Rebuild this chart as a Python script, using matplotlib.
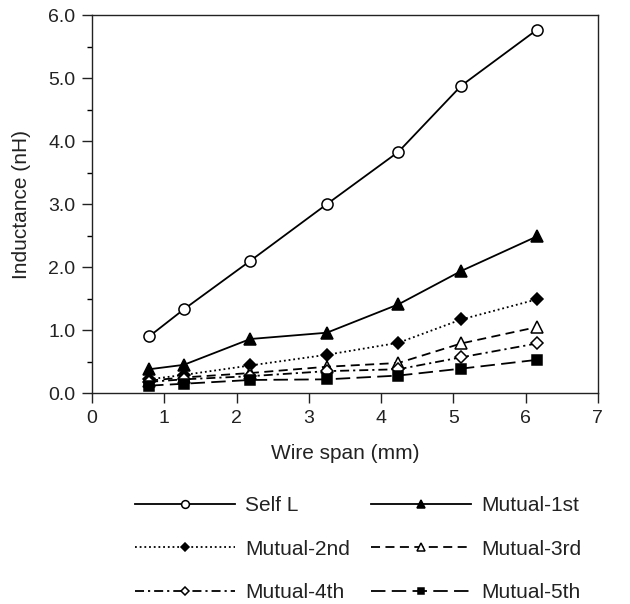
import matplotlib
matplotlib.use("Agg")
import matplotlib.pyplot as plt
from matplotlib.ticker import MultipleLocator, FormatStrFormatter

plt.rcParams['font.family'] = ['Liberation Sans', 'DejaVu Sans']

span = [0.79, 1.27, 2.19, 3.25, 4.24, 5.11, 6.16]
self_l = [0.90, 1.33, 2.10, 3.00, 3.83, 4.88, 5.77]
mutual_1 = [0.38, 0.45, 0.86, 0.96, 1.41, 1.94, 2.49]
mutual_2 = [0.22, 0.29, 0.44, 0.61, 0.80, 1.17, 1.49]
mutual_3 = [0.20, 0.25, 0.32, 0.42, 0.48, 0.79, 1.05]
mutual_4 = [0.18, 0.22, 0.27, 0.35, 0.38, 0.57, 0.79]
mutual_5 = [0.12, 0.15, 0.21, 0.22, 0.28, 0.39, 0.53]

names = ['Self L', 'Mutual-1st', 'Mutual-2nd', 'Mutual-3rd', 'Mutual-4th', 'Mutual-5th']
series = [self_l, mutual_1, mutual_2, mutual_3, mutual_4, mutual_5]
styles = [
    dict(ls='-', marker='o', mfc='white'),
    dict(ls='-', marker='^', mfc='black'),
    dict(ls=(0, (1, 1.6)), marker='D', mfc='black', ms=6),
    dict(ls=(0, (5, 3)), marker='^', mfc='white'),
    dict(ls=(0, (5, 2.2, 1.2, 2.2)), marker='D', mfc='white', ms=6),
    dict(ls=(0, (8, 3.5)), marker='s', mfc='black', ms=7),
]

fig = plt.figure(figsize=(6.3, 6.04), dpi=100)
ax = fig.add_axes([0.146, 0.349, 0.803, 0.626])

handles = []
for name, vals, st in zip(names, series, styles):
    kw = dict(color='black', lw=1.3, mec='black', mew=1.1, ms=8)
    kw.update(st)
    line, = ax.plot(span, vals, label=name, **kw)
    handles.append(line)

ax.set_xlim(0, 7)
ax.set_ylim(0, 6)
ax.xaxis.set_major_locator(MultipleLocator(1))
ax.yaxis.set_major_locator(MultipleLocator(1))
ax.yaxis.set_minor_locator(MultipleLocator(0.5))
ax.yaxis.set_major_formatter(FormatStrFormatter('%.1f'))
ax.tick_params(direction='out', length=7, width=1, labelsize=14, colors='#222222')
ax.tick_params(axis='y', pad=5)
ax.tick_params(axis='x', pad=5)
ax.tick_params(which='minor', direction='out', length=3.5, width=1)
for s in ax.spines.values():
    s.set_linewidth(1)
    s.set_color('#222222')
ax.set_xlabel('Wire span (mm)', fontsize=15, labelpad=12, color='#222222')
ax.set_ylabel('Inductance (nH)', fontsize=15, labelpad=12, color='#222222')

# two columns, filled row by row
order = [0, 2, 4, 1, 3, 5]
fig.legend([handles[i] for i in order], [names[i] for i in order],
           loc='center', bbox_to_anchor=(0.568, 0.091), ncol=2, frameon=False,
           fontsize=15, handlelength=4.8, labelspacing=1.18, columnspacing=1.0,
           handletextpad=0.5, markerscale=0.7, labelcolor='#222222')

fig.savefig('out.png', dpi=100)
